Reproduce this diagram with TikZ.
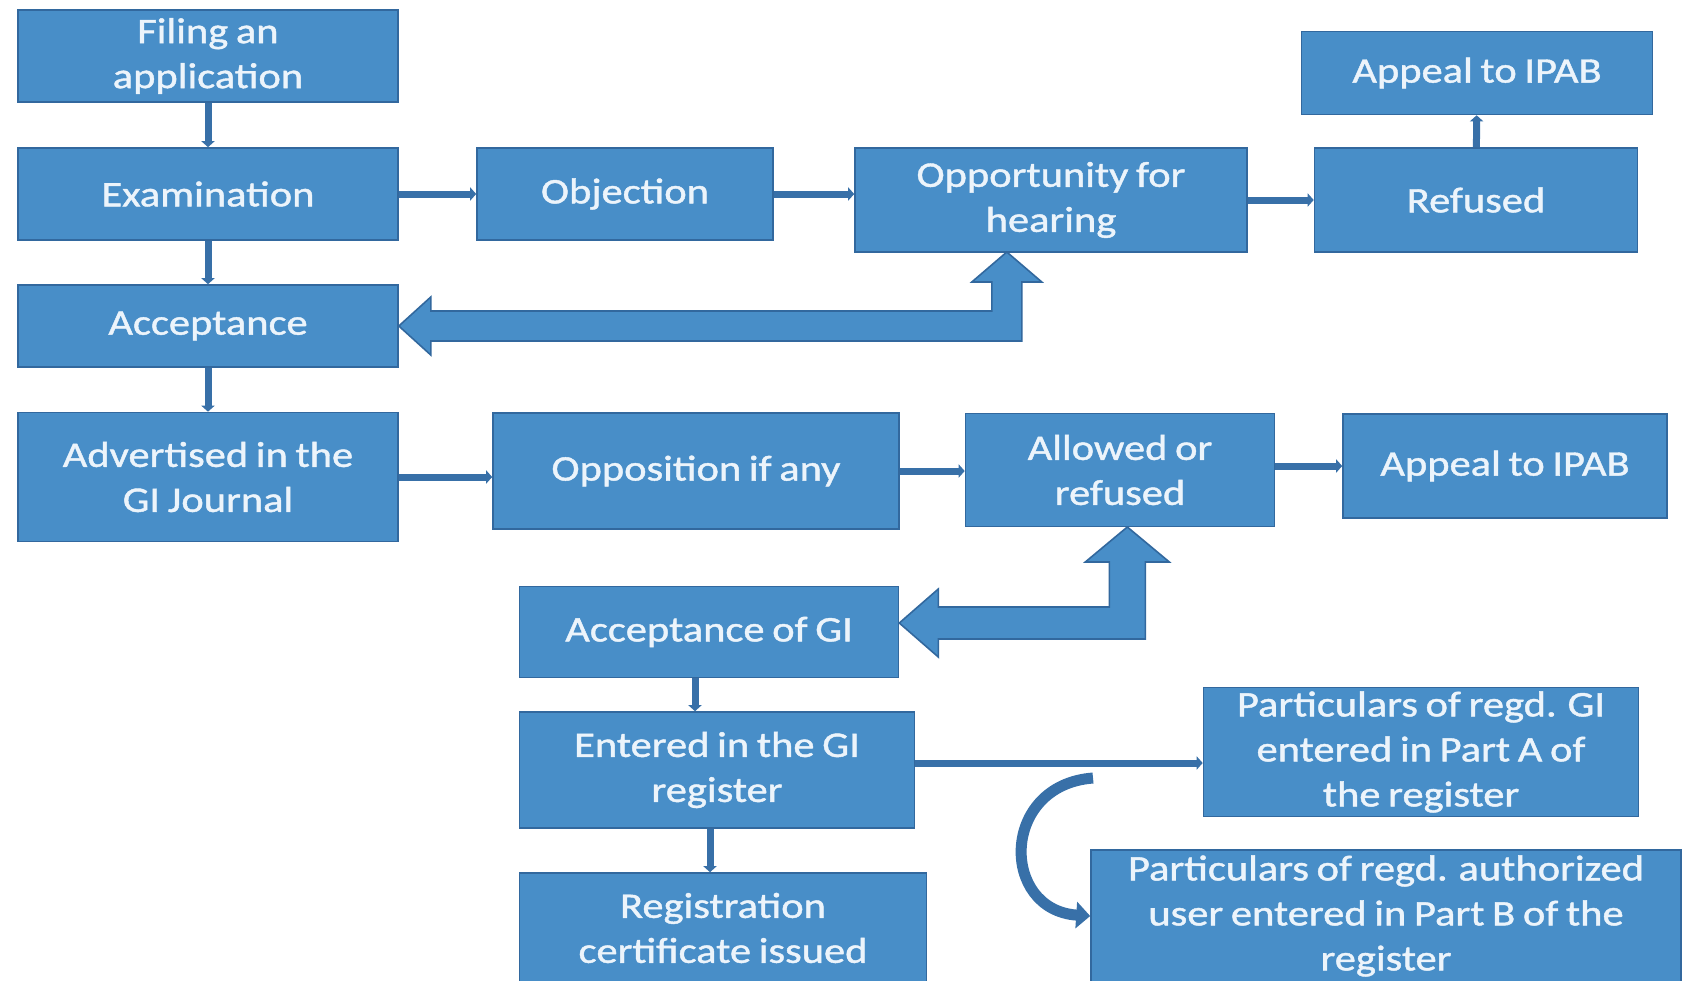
\documentclass[tikz,border=0pt]{standalone}
\usepackage{fontspec}
\setmainfont{Carlito}[FakeStretch=1.18,FakeBold=1.2,WordSpace=0.8]
\usetikzlibrary{arrows.meta}
\definecolor{boxblue}{RGB}{72,142,200}
\definecolor{edgeblue}{RGB}{50,104,158}
\definecolor{linkblue}{RGB}{56,112,168}
\definecolor{boxtext}{RGB}{236,244,251}
\begin{document}
\begin{tikzpicture}[x=0.5pt,y=-0.5pt,
  box/.style={draw=edgeblue,line width=0.8pt,fill=boxblue,text=boxtext,align=center,
    inner sep=0pt,font=\fontsize{18}{22.5}\selectfont},
  link/.style={draw=linkblue,line width=3.5pt,-{Triangle[length=3pt,width=6.5pt]}},
  blockarrow/.style={draw=edgeblue,line width=0.8pt,fill=boxblue,line join=miter}]
\useasboundingbox[fill=white] (0,0) rectangle (1686,980);
% drawing boxes
\node[box,minimum width=190pt,minimum height=46pt] (filing) at (208,56) {Filing an\\application};
\node[box,minimum width=190pt,minimum height=46pt] (exam) at (208,194) {Examination};
\node[box,minimum width=190pt,minimum height=41pt] (accept) at (208,326) {Acceptance};
\node[box,minimum width=190pt,minimum height=64.5pt] (advert) at (208,477) {Advertised in the\\GI Journal};
\node[box,minimum width=148pt,minimum height=46pt] (objection) at (625,194) {Objection};
\node[box,minimum width=196pt,minimum height=52pt] (hearing) at (1051,200) {Opportunity for\\hearing};
\node[box,minimum width=161.5pt,minimum height=52pt] (refused) at (1476,200) {Refused};
\node[box,minimum width=175.5pt,minimum height=41.5pt] (appealA) at (1477,73) {Appeal to IPAB};
\node[box,minimum width=203pt,minimum height=58pt] (opposition) at (696,471) {Opposition if any};
\node[box,minimum width=154.5pt,minimum height=56.5pt] (allowed) at (1120,470) {Allowed or\\refused};
\node[box,minimum width=162pt,minimum height=52pt] (appealB) at (1505,466) {Appeal to IPAB};
\node[box,minimum width=189.5pt,minimum height=45.5pt] (acceptgi) at (709,632) {Acceptance of GI};
\node[box,minimum width=197.5pt,minimum height=58pt] (entered) at (717,770) {Entered in the GI\\register};
\node[box,minimum width=203.5pt,minimum height=55pt] (certificate) at (723,928) {Registration\\certificate issued};
\node[box,minimum width=217.5pt,minimum height=64.5pt] (partA) at (1421,752) {Particulars of regd. GI\\entered in Part A of\\the register};
\node[box,minimum width=295pt,minimum height=66pt] (partB) at (1386,916) {Particulars of regd. authorized\\user entered in Part B of the\\register};
% drawing links
\draw[link] (filing) -- (exam);
\draw[link] (exam) -- (accept);
\draw[link] (accept) -- (advert);
\draw[link] (exam.east) -- (exam.east -| objection.west);
\draw[link] (objection.east) -- (objection.east -| hearing.west);
\draw[link] (hearing) -- (refused);
\draw[link] (refused) -- (appealA);
\draw[link] (advert.east) -- (advert.east -| opposition.west);
\draw[link] (opposition.east) -- (opposition.east -| allowed.west);
\draw[link] (allowed.east |- appealB.west) -- (appealB.west);
\draw[link] ([xshift=-7pt]acceptgi.south) -- ([xshift=-7pt]acceptgi.south |- entered.north);
\draw[link] ([xshift=-3.5pt]entered.south) -- ([xshift=-3.5pt]entered.south |- certificate.north);
\draw[link] ([yshift=3.5pt]entered.east) -- ([yshift=3.5pt]entered.east -| partA.west);
% block arrows back to the acceptance boxes
\draw[blockarrow] (accept.east) -- ++(32,-29) -- ++(0,14) -- ++(561,0) -- ++(0,-29)
  -- ++(-20,0) -- ++(35,-30) -- ++(35,30) -- ++(-20,0) -- ++(0,59) -- ++(-591,0)
  -- ++(0,14) -- cycle;
\draw[blockarrow] ([yshift=4.5pt]acceptgi.east) -- ++(39,-34) -- ++(0,18) -- ++(171,0)
  -- ++(0,-45) -- ++(-24,0) -- ++(42,-35) -- ++(42,35) -- ++(-24,0) -- ++(0,77)
  -- ++(-207,0) -- ++(0,18) -- cycle;
% curved arrow
\coordinate (bend) at (1093,778);
\draw[draw=linkblue,line width=5.5pt,-{Triangle[length=7pt,width=13pt]}]
  (bend) .. controls (1000,785) and (1000,910) .. (partB.west);
\end{tikzpicture}
\end{document}
